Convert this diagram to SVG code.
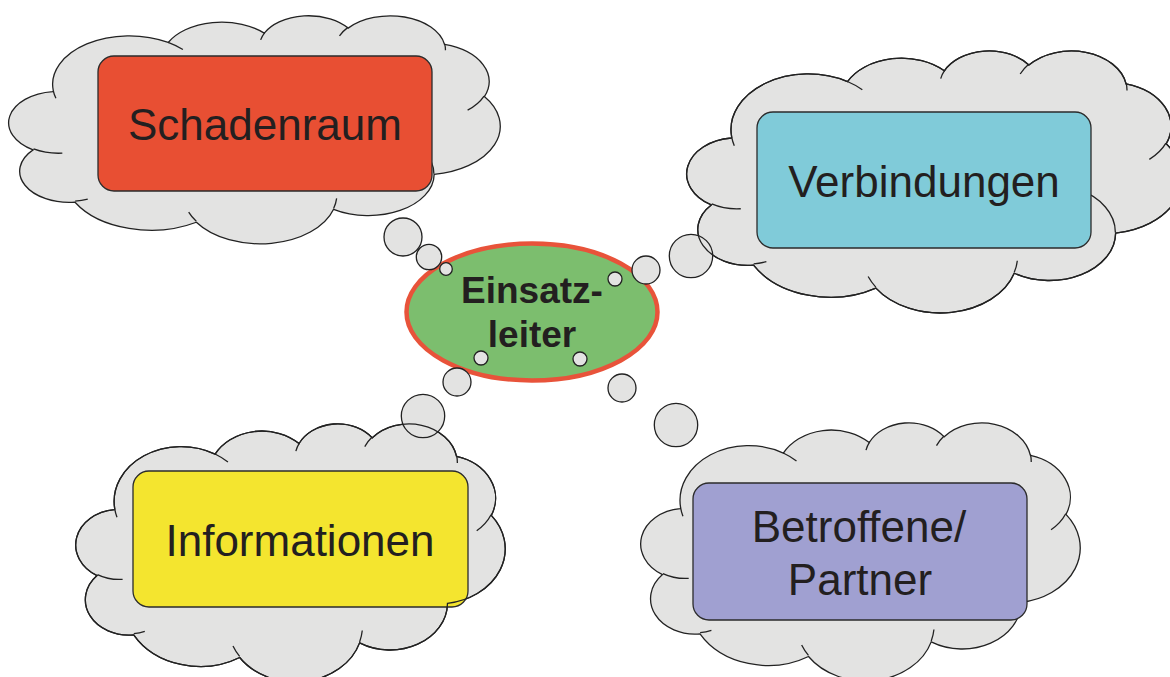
<svg xmlns="http://www.w3.org/2000/svg" width="1170" height="677" viewBox="0 0 1170 677">
  <style>
    .cloud { fill: #e3e3e2; stroke: #222; stroke-width: 1.3; }
    .rim { fill: none; stroke: #222; stroke-width: 1.3; }
    .box { stroke: #2b2b2b; stroke-width: 1.3; }
    .label { font-family: "Liberation Sans", Arial, sans-serif; font-size: 44px; fill: #231f20; text-anchor: middle; }
    .core { font-family: "Liberation Sans", Arial, sans-serif; font-size: 37px; font-weight: bold; fill: #231f20; text-anchor: middle; }
    .bubble { fill: #e3e3e2; stroke: #222; stroke-width: 1.3; }
  </style>
  <defs>
    <!-- cloud outline in a 432 x 432 frame -->
    <path id="cloudShape" vector-effect="non-scaling-stroke" d="M39.00 143.70 A67.53 91.90 0 0 1 140.07 52.03 A53.33 72.67 0 0 1 224.60 34.35 A43.65 59.45 0 0 1 298.38 24.85 A48.57 65.95 0 0 1 383.22 55.80 A53.33 72.73 0 0 1 418.23 154.64 A67.75 92.20 0 0 1 374.07 302.04 A57.85 78.67 0 0 1 285.59 368.15 A67.52 92.15 0 0 1 164.84 392.67 A77.20 105.43 0 0 1 58.08 354.73 A43.60 59.18 0 0 1 21.17 255.50 A43.45 59.45 0 0 1 38.68 145.07 Z"/>
    <!-- short inner strokes where the puffs overlap -->
    <path id="cloudEdge" vector-effect="non-scaling-stroke" d="M46.93 261.77 A43.45 59.45 0 0 1 21.59 253.80 M69.28 348.99 A43.60 59.18 0 0 1 58.19 352.81 M164.78 390.90 A67.52 92.15 0 0 1 158.09 373.48 M288.27 347.51 A67.52 92.15 0 0 1 285.60 366.60 M341.29 229.54 A57.85 78.67 0 0 1 373.81 300.90 M417.98 153.54 A53.33 72.73 0 0 1 403.50 180.30 M383.24 54.26 A48.57 65.95 0 0 1 384.00 66.90 M290.78 39.52 A48.57 65.95 0 0 1 298.20 23.41 M221.41 47.20 A43.65 59.45 0 0 1 225.00 33.30 M140.00 51.92 A67.53 91.90 0 0 1 153.01 65.43 M41.27 157.89 A67.53 91.90 0 0 1 39.00 143.71"/>
  </defs>

  <rect x="0" y="0" width="1170" height="677" fill="#ffffff"/>

  <g id="schadenraum">
    <g transform="translate(9,15) scale(1.13657,0.52778)">
      <use href="#cloudShape" class="cloud"/>
      <use href="#cloudEdge" class="rim"/>
    </g>
    <rect class="box" x="98" y="56" width="334" height="135" rx="16" fill="#e84f33"/>
    <text class="label" x="265" y="140">Schadenraum</text>
  </g>

  <g id="verbindungen">
    <g transform="translate(687,50) scale(1.14583,0.60648)">
      <use href="#cloudShape" class="cloud"/>
      <use href="#cloudEdge" class="rim"/>
    </g>
    <rect class="box" x="757" y="112" width="334" height="136" rx="16" fill="#80cbd9"/>
    <text class="label" x="924" y="197">Verbindungen</text>
  </g>

  <g id="informationen">
    <g transform="translate(76,423) scale(0.99306,0.59722)">
      <use href="#cloudShape" class="cloud"/>
      <use href="#cloudEdge" class="rim"/>
    </g>
    <rect class="box" x="133" y="471" width="335" height="136" rx="16" fill="#f4e52f"/>
    <text class="label" x="300" y="556">Informationen</text>
  </g>

  <g id="betroffene">
    <g transform="translate(641,422) scale(1.01620,0.59722)">
      <use href="#cloudShape" class="cloud"/>
      <use href="#cloudEdge" class="rim"/>
    </g>
    <rect class="box" x="693" y="483" width="334" height="137" rx="16" fill="#a0a0d1"/>
    <text class="label" x="859" y="542">Betroffene/</text>
    <text class="label" x="860" y="595">Partner</text>
  </g>

  <g id="einsatzleiter">
    <ellipse cx="532" cy="312" rx="125.5" ry="68.5" fill="#7cbe6e" stroke="#e8533a" stroke-width="4.5"/>
    <text class="core" x="532" y="303">Einsatz-</text>
    <text class="core" x="532" y="347">leiter</text>
  </g>

  <!-- thought-bubble chains from the centre to each cloud -->
  <g id="connectors">
    <circle class="bubble" cx="403" cy="237" r="19"/>
    <circle class="bubble" cx="429" cy="257" r="12.7"/>
    <circle class="bubble" cx="446" cy="269" r="6.3"/>

    <circle class="bubble" cx="615" cy="279" r="7"/>
    <circle class="bubble" cx="646" cy="270" r="14"/>
    <circle class="bubble" cx="691" cy="256" r="21.7"/>

    <circle class="bubble" cx="481" cy="358" r="7"/>
    <circle class="bubble" cx="457" cy="382" r="14"/>
    <circle class="bubble" cx="423" cy="416" r="21.7"/>

    <circle class="bubble" cx="580" cy="359" r="7"/>
    <circle class="bubble" cx="622" cy="388" r="14"/>
    <circle class="bubble" cx="676" cy="425" r="21.7"/>
  </g>

  <!-- cloud outlines stay visible through the overlapping bubbles -->
  <g id="cloud-rims">
    <use href="#cloudShape" class="rim" transform="translate(687,50) scale(1.14583,0.60648)"/>
    <use href="#cloudShape" class="rim" transform="translate(76,423) scale(0.99306,0.59722)"/>
  </g>
</svg>
